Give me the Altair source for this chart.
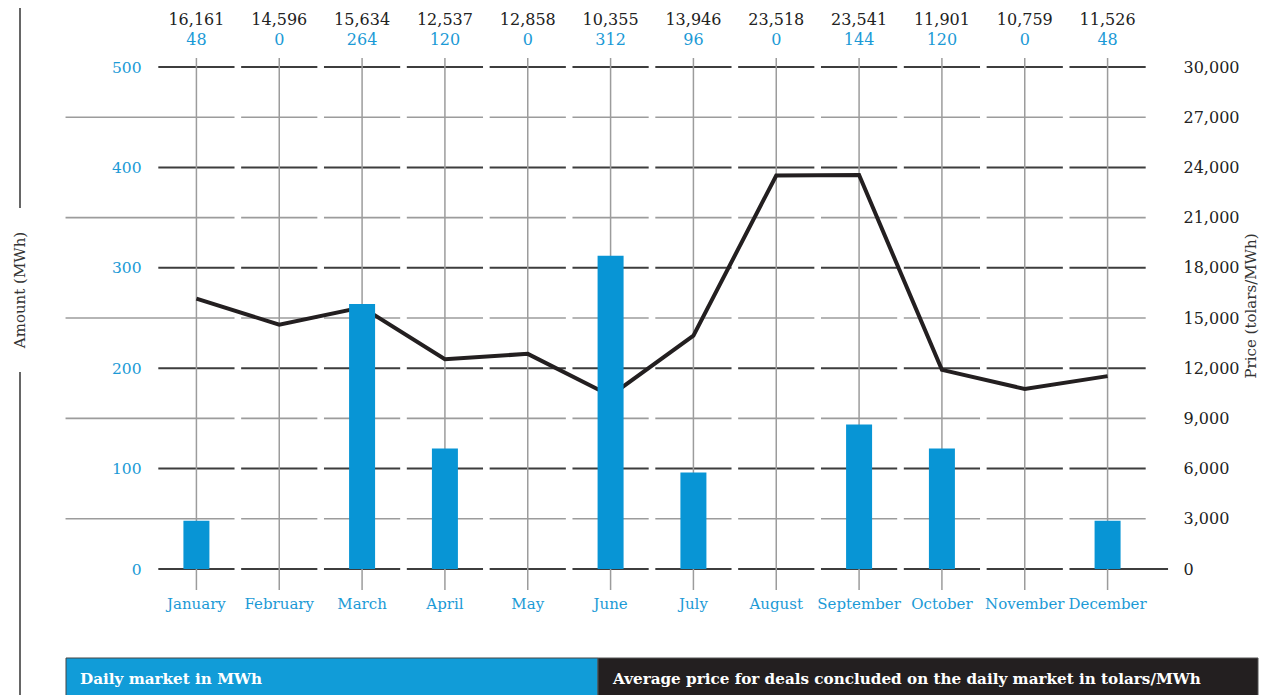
import altair as alt
import pandas as pd

# ---------------- data ----------------
months = ["January", "February", "March", "April", "May", "June", "July",
          "August", "September", "October", "November", "December"]
amount = [48, 0, 264, 120, 0, 312, 96, 0, 144, 120, 0, 48]
price = [16161, 14596, 15634, 12537, 12858, 10355, 13946, 23518, 23541,
         11901, 10759, 11526]
amount_ticks = [0, 100, 200, 300, 400, 500]
price_ticks = [0, 3000, 6000, 9000, 12000, 15000, 18000, 21000, 24000,
               27000, 30000]
grid_levels = [0, 50, 100, 150, 200, 250, 300, 350, 400, 450, 500]

FONT = "DejaVu Serif"
BLUE = "#1b9ad6"
BAR = "#0895d5"
DARK = "#231f20"

df = pd.DataFrame({"idx": list(range(len(months))), "month": months,
                   "amount": amount, "price": price})
df["price_label"] = [f"{p:,}" for p in price]
df["amount_label"] = [str(a) for a in amount]

rows = []
for lv in grid_levels:
    major = lv % 100 == 0
    for i in range(len(months)):
        x1, x2 = i - 0.46, i + 0.46
        if not major and i == 0:
            x1 = -1.58
        if lv == 0 and i == len(months) - 1:
            x2 = 11.73
        rows.append({"level": lv, "x1": x1, "x2": x2,
                     "kind": "major" if major else "minor"})
grid = pd.DataFrame(rows)

xs = alt.Scale(domain=[-0.5, 11.5], nice=False, zero=False, padding=0)
ys_amt = alt.Scale(domain=[0, 500], nice=False, zero=True)
ys_price = alt.Scale(domain=[0, 30000], nice=False, zero=True)

dummy = pd.DataFrame({"d": [0]})

# ---------------- layers ----------------
hgrid = alt.Chart(grid).mark_rule().encode(
    x=alt.X("x1:Q", scale=xs, axis=None),
    x2="x2:Q",
    y=alt.Y("level:Q", scale=ys_amt, axis=None),
    color=alt.Color("kind:N", scale=alt.Scale(domain=["major", "minor"],
                                              range=["#3d3d3d", "#9c9c9c"]),
                    legend=None),
    strokeWidth=alt.StrokeWidth("kind:N", scale=alt.Scale(domain=["major", "minor"],
                                                          range=[2, 1.6]),
                                legend=None),
)

vgrid = alt.Chart(df).mark_rule(color="#9c9c9c", strokeWidth=1.5).encode(
    x=alt.X("idx:Q", scale=xs, axis=None),
    y=alt.value(-9),
    y2=alt.value(523),
)

line = alt.Chart(df).mark_line(color=DARK, strokeWidth=4, strokeJoin="miter").encode(
    x=alt.X("idx:Q", scale=xs, axis=None),
    y=alt.Y("price:Q", scale=ys_price,
            axis=alt.Axis(orient="right", values=price_ticks, format=",d",
                          grid=False, domain=False, ticks=False,
                          labelColor="#222222", labelFont=FONT, labelFontSize=16,
                          labelPadding=34, labelFlush=False, labelOverlap=False,
                          title=None)),
)

bars = alt.Chart(df).mark_bar(color=BAR, size=26).encode(
    x=alt.X("idx:Q", scale=xs, axis=None),
    y=alt.Y("amount:Q", scale=ys_amt,
            axis=alt.Axis(orient="left", values=amount_ticks,
                          grid=False, domain=False, ticks=False,
                          labelColor=BLUE, labelFont=FONT, labelFontSize=15.5,
                          labelPadding=14, labelFlush=False, labelOverlap=False,
                          title=None)),
)

price_txt = alt.Chart(df).mark_text(font=FONT, fontSize=16, color="#222222",
                                    baseline="middle").encode(
    x=alt.X("idx:Q", scale=xs, axis=None),
    y=alt.value(-47),
    text="price_label:N",
)

amount_txt = alt.Chart(df).mark_text(font=FONT, fontSize=16, color=BLUE,
                                     baseline="middle").encode(
    x=alt.X("idx:Q", scale=xs, axis=None),
    y=alt.value(-27),
    text="amount_label:N",
)

month_txt = alt.Chart(df).mark_text(font=FONT, fontSize=15, color=BLUE,
                                    baseline="middle").encode(
    x=alt.X("idx:Q", scale=xs, axis=None),
    y=alt.value(537),
    text="month:N",
)

# left vertical rule with title gap
left_rule1 = alt.Chart(dummy).mark_rule(color="#333333", strokeWidth=1.5).encode(
    x=alt.value(-135), y=alt.value(-67), y2=alt.value(141))
left_rule2 = alt.Chart(dummy).mark_rule(color="#333333", strokeWidth=1.5).encode(
    x=alt.value(-135), y=alt.value(305), y2=alt.value(628))
left_title = alt.Chart(dummy).mark_text(
    text="Amount (MWh)", font=FONT, fontSize=15, color="#333333", angle=270,
    align="center", baseline="middle").encode(x=alt.value(-135), y=alt.value(223))
right_title = alt.Chart(dummy).mark_text(
    text="Price (tolars/MWh)", font=FONT, fontSize=15, color="#333333", angle=270,
    align="center", baseline="middle").encode(x=alt.value(1096), y=alt.value(239))

# bottom legend boxes
box_blue = alt.Chart(dummy).mark_rect(color="#119cd8", stroke="#444444",
                                      strokeWidth=1).encode(
    x=alt.value(-89), x2=alt.value(443), y=alt.value(591), y2=alt.value(640))
box_dark = alt.Chart(dummy).mark_rect(color="#231f20", stroke="#555555",
                                      strokeWidth=1).encode(
    x=alt.value(443), x2=alt.value(1103), y=alt.value(591), y2=alt.value(640))
box_txt1 = alt.Chart(dummy).mark_text(
    text="Daily market in MWh", font=FONT, fontSize=15.2, fontWeight="bold",
    color="white", align="left", baseline="middle").encode(
    x=alt.value(-75), y=alt.value(612))
box_txt2 = alt.Chart(dummy).mark_text(
    text="Average price for deals concluded on the daily market in tolars/MWh",
    font=FONT, fontSize=15.2, fontWeight="bold", color="white", align="left",
    baseline="middle").encode(x=alt.value(458), y=alt.value(612))

chart = alt.layer(
    hgrid, vgrid, line, bars, price_txt, amount_txt, month_txt,
    left_rule1, left_rule2, left_title, right_title,
    box_blue, box_dark, box_txt1, box_txt2,
).resolve_scale(y="independent").properties(
    width=994, height=502,
    autosize=alt.AutoSizeParams(type="none"),
    padding={"left": 147, "top": 59, "right": 113, "bottom": 126},
).configure_view(stroke=None)

chart.save("out.html", embed_options={"renderer": "svg", "actions": False})
